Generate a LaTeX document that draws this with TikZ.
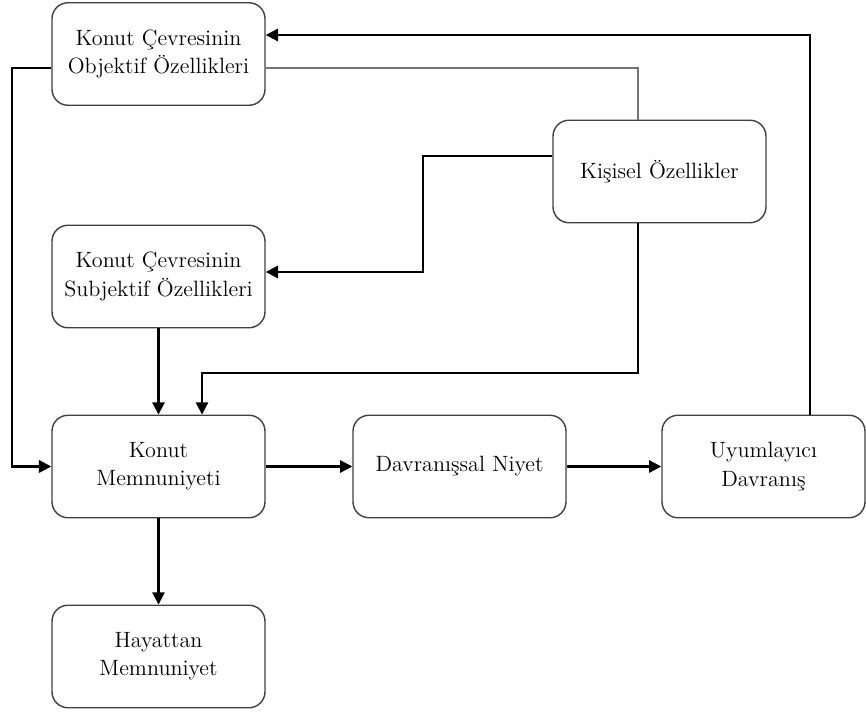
\documentclass[tikz,border=0pt]{standalone}
\usetikzlibrary{arrows.meta}

\begin{document}
\begin{tikzpicture}[
    box/.style={draw=black!75,line width=.8pt,rounded corners=.32cm,
      minimum width=4.26cm,minimum height=2.05cm,align=center,
      font=\fontsize{12.6}{16}\selectfont},
    arr/.style={-{Triangle[length=7pt,width=7pt]},line width=1.2pt},
    link/.style={draw=black!55,line width=.7pt}]
  \useasboundingbox (0,0) rectangle (17.32,-14.26);
  \node (obj) [box] at (3.17,-1.08) {Konut Çevresinin\\Objektif Özellikleri};
  \node (kis) [box] at (13.19,-3.43) {Kişisel Özellikler};
  \node (subj) [box] at (3.17,-5.53) {Konut Çevresinin\\Subjektif Özellikleri};
  \node (km) [box] at (3.17,-9.33) {Konut\\Memnuniyeti};
  \node (dn) [box] at (9.19,-9.33) {Davranışsal Niyet};
  \node (uy) [box,minimum width=4.06cm] at (15.27,-9.33) {Uyumlayıcı\\Davranış};
  \node (hm) [box] at (3.17,-13.13) {Hayattan\\Memnuniyet};

  \coordinate (lrail) at (0.24,-5);
  \coordinate (kbend) at (8.46,-4);
  \coordinate (kturn) at (4.04,-7.46);

  \draw[arr] ([xshift=.93cm]uy.north) |- ([yshift=.38cm]obj.east);
  \draw[link] ([yshift=-.28cm]obj.east) -| ([xshift=-.43cm]kis.north);
  \draw[arr] ([yshift=.31cm]kis.west) -| (kbend) |- ([yshift=.09cm]subj.east);
  \draw[arr] ([xshift=-.43cm]kis.south) |- (kturn) -- (kturn |- km.north);
  \draw[arr] (subj) -- (km);
  \draw[arr] ([yshift=-.28cm]obj.west) -| (lrail) |- (km.west);
  \draw[arr] (km) -- (dn);
  \draw[arr] (dn) -- (uy);
  \draw[arr] (km) -- (hm);
\end{tikzpicture}
\end{document}
